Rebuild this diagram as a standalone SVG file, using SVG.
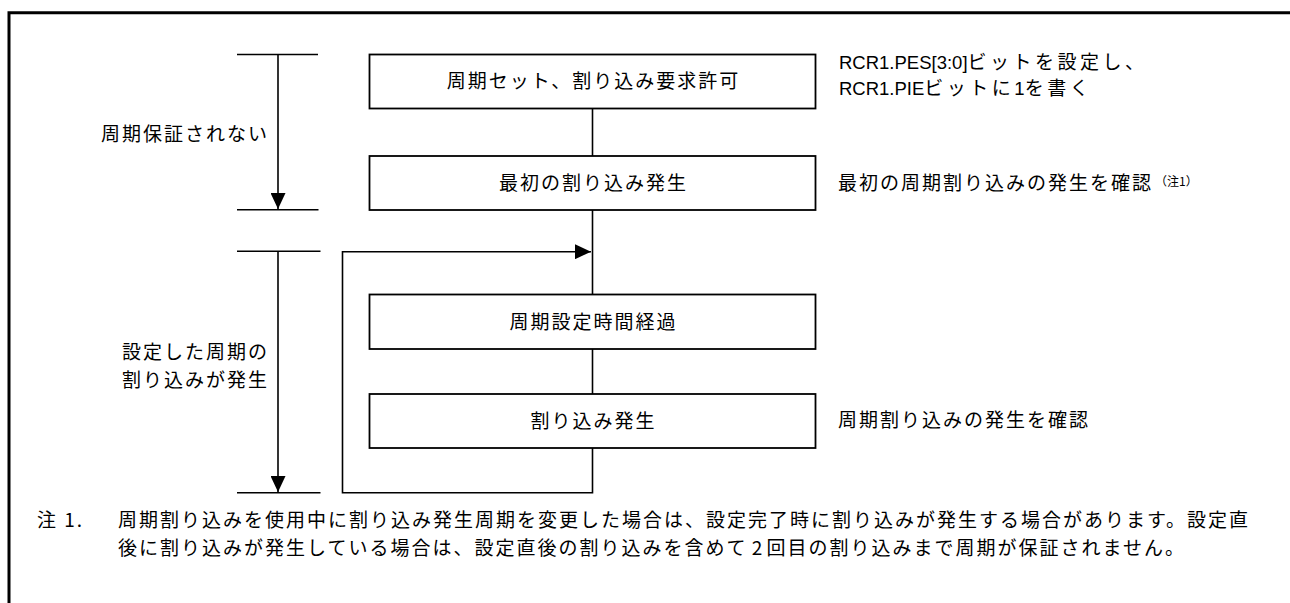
<svg xmlns="http://www.w3.org/2000/svg" width="1290" height="603" viewBox="0 0 1290 603">
<style>
.ln{fill:none;stroke:#000;stroke-width:1.6}
.box{fill:#fff;stroke:#000;stroke-width:1.8}
.jp{font-family:"Noto Sans CJK JP","Liberation Sans",sans-serif;font-size:19px;letter-spacing:2px;fill:#000}
.lat{font-family:"Liberation Sans","Noto Sans CJK JP",sans-serif;font-size:18.5px;letter-spacing:0px}
.wide{letter-spacing:3.5px}
.mid{text-anchor:middle}
.end{text-anchor:end}
</style>
<defs>
<marker id="ah" viewBox="0 0 16 15" refX="16" refY="7.5" markerWidth="16" markerHeight="15" markerUnits="userSpaceOnUse" orient="auto">
<path d="M0,0 L16,7.5 L0,15 Z" fill="#000"/>
</marker>
</defs>
<rect width="1290" height="603" fill="#fff"/>
<path d="M9,603 V12.8 H1290" fill="none" stroke="#000" stroke-width="3"/>

<g id="connectors">
<line class="ln" x1="592.5" y1="108.5" x2="592.5" y2="156"/>
<line class="ln" x1="592.5" y1="210" x2="592.5" y2="294.5"/>
<line class="ln" x1="592.5" y1="349" x2="592.5" y2="394"/>
<path class="ln" d="M592.5,448 V492.7 H342.5 V251.7 H591" marker-end="url(#ah)"/>
</g>

<g id="dim-upper">
<line class="ln" x1="237" y1="54.5" x2="318" y2="54.5"/>
<line class="ln" x1="237" y1="209.8" x2="318.5" y2="209.8"/>
<line class="ln" x1="278" y1="54.5" x2="278" y2="209" marker-end="url(#ah)"/>
<text class="jp end" x="269" y="141">周期保証されない</text>
</g>

<g id="dim-lower">
<line class="ln" x1="237" y1="251.3" x2="320.5" y2="251.3"/>
<line class="ln" x1="237" y1="492.7" x2="320.5" y2="492.7"/>
<line class="ln" x1="278" y1="251.3" x2="278" y2="492" marker-end="url(#ah)"/>
<text class="jp end" x="269" y="359">設定した周期の</text>
<text class="jp end" x="269" y="387">割り込みが発生</text>
</g>

<g id="node1">
<rect class="box" x="369.5" y="54.5" width="446" height="54"/>
<text class="jp mid" x="593.5" y="87.5">周期セット、割り込み要求許可</text>
</g>
<g id="node2">
<rect class="box" x="369.5" y="156" width="446" height="54"/>
<text class="jp mid" x="593.5" y="190">最初の割り込み発生</text>
</g>
<g id="node3">
<rect class="box" x="369.5" y="294.5" width="446" height="54.5"/>
<text class="jp mid" x="593.5" y="329">周期設定時間経過</text>
</g>
<g id="node4">
<rect class="box" x="369.5" y="394" width="446" height="54"/>
<text class="jp mid" x="593.5" y="428">割り込み発生</text>
</g>

<g id="notes-right">
<text class="jp" x="839" y="68.5"><tspan class="lat">RCR1.PES[3:0]</tspan><tspan class="wide">ビットを設定し、</tspan></text>
<text class="jp" x="839" y="95"><tspan class="lat">RCR1.PIE</tspan><tspan class="wide">ビットに</tspan><tspan class="lat">1</tspan><tspan class="wide">を書く</tspan></text>
<text class="jp" x="838" y="190">最初の周期割り込みの発生を確認</text>
<text style="font-family:'Noto Sans CJK JP',sans-serif;font-size:12px" x="1155" y="186">（注1）</text>
<text class="jp" x="838" y="427">周期割り込みの発生を確認</text>
</g>

<g id="footnote">
<text class="jp" x="37" y="527">注 1.</text>
<text class="jp" x="118" y="527">周期割り込みを使用中に割り込み発生周期を変更した場合は、設定完了時に割り込みが発生する場合があります。設定直</text>
<text class="jp" x="118" y="555">後に割り込みが発生している場合は、設定直後の割り込みを含めて<tspan style="letter-spacing:0px"> 2 </tspan>回目の割り込みまで周期が保証されません。</text>
</g>
</svg>
